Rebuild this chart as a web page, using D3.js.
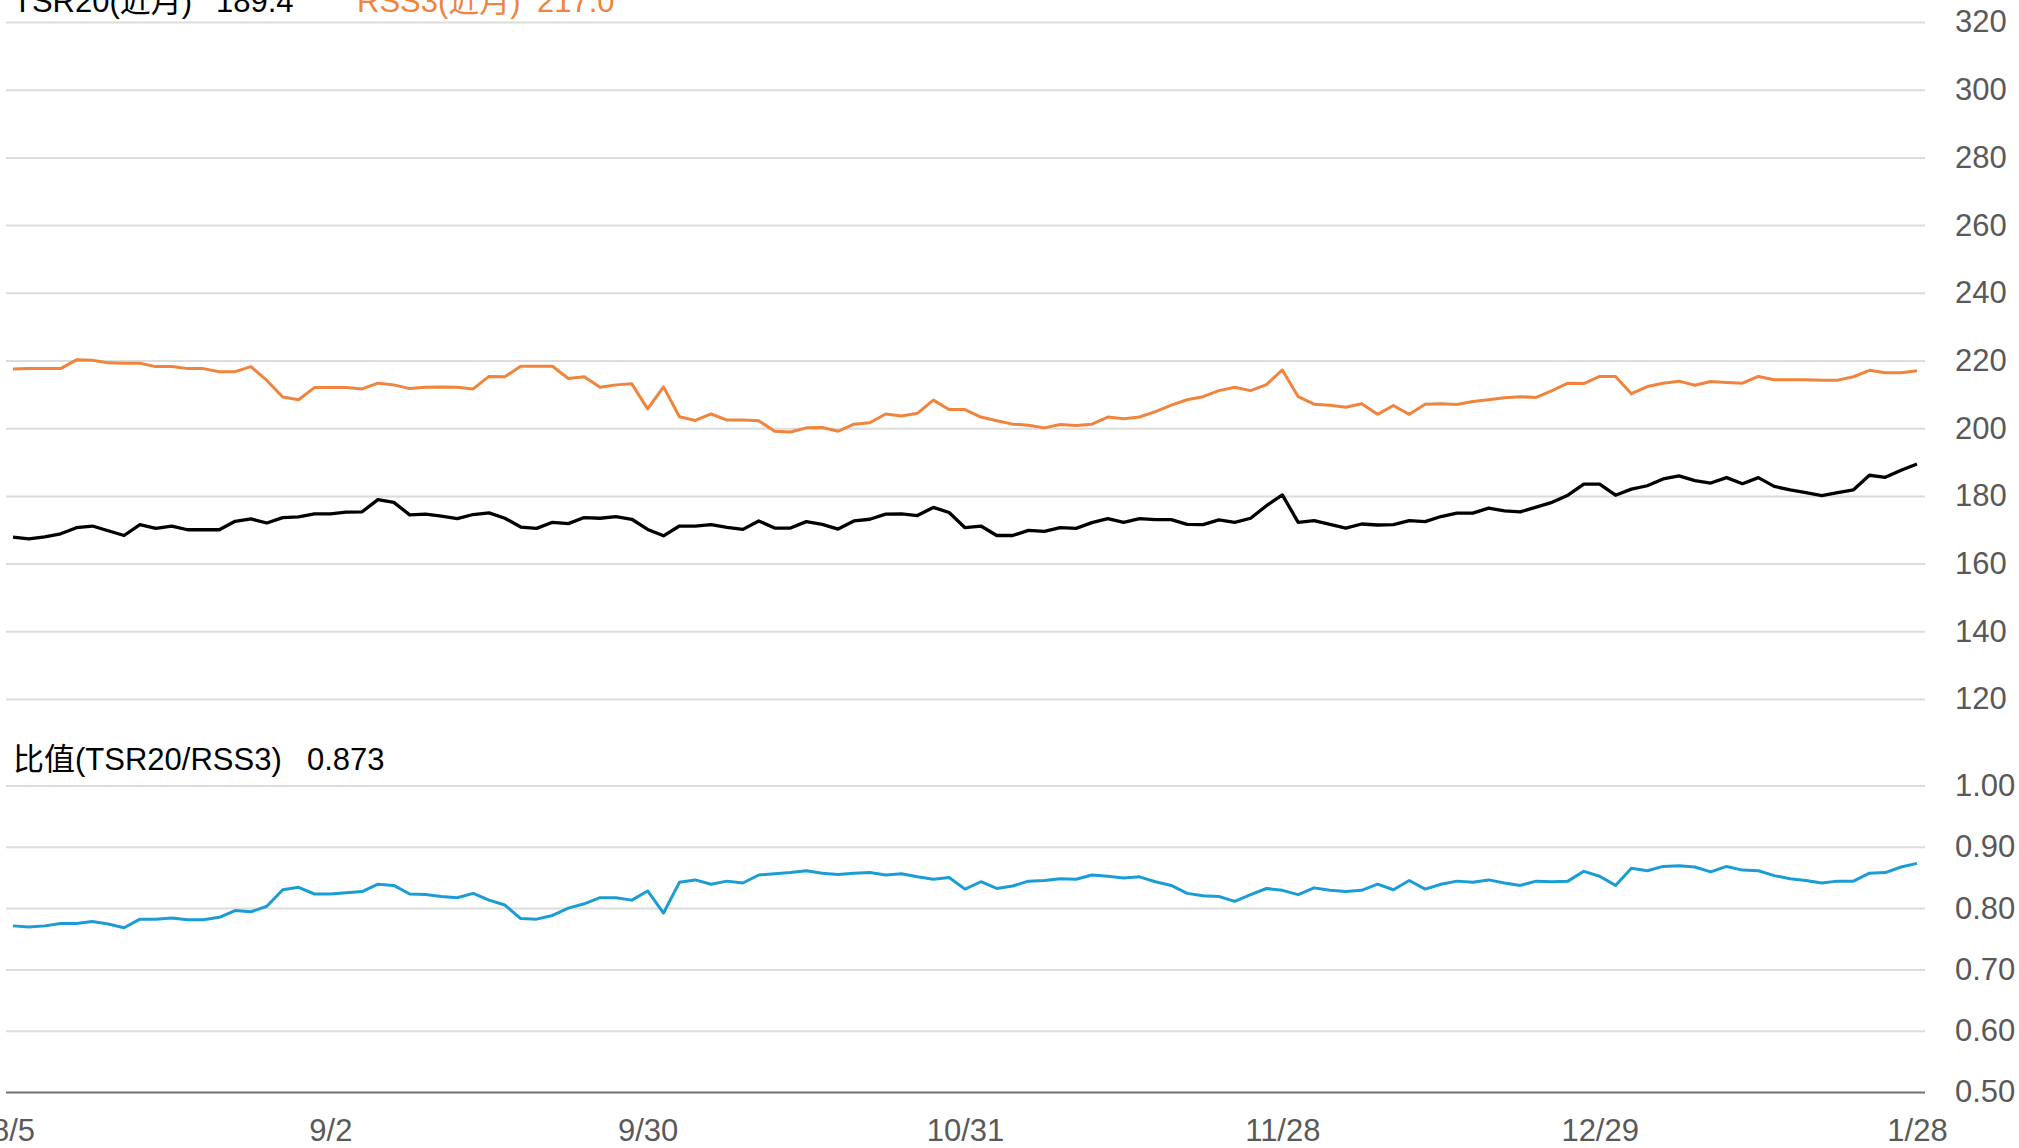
<!DOCTYPE html>
<html>
<head>
<meta charset="utf-8">
<script src="https://cdn.jsdelivr.net/npm/d3@7"></script>
<style>
  body { margin: 0; background: #fff; overflow: hidden; }
  svg { display: block; font-family: "Liberation Sans", Arial, "Noto Sans CJK SC", sans-serif; }
</style>
</head>
<body>
<script>

const dates = [
    "8/5", "8/6", "8/7", "8/8", "8/11", "8/12", "8/13", "8/14", "8/15", "8/18",
    "8/19", "8/20", "8/21", "8/22", "8/25", "8/26", "8/27", "8/28", "8/29", "9/1",
    "9/2", "9/3", "9/4", "9/5", "9/8", "9/9", "9/10", "9/11", "9/12", "9/15",
    "9/16", "9/17", "9/18", "9/19", "9/22", "9/23", "9/24", "9/25", "9/26", "9/29",
    "9/30", "10/6", "10/7", "10/8", "10/9", "10/10", "10/13", "10/14", "10/15", "10/16",
    "10/17", "10/20", "10/21", "10/22", "10/23", "10/24", "10/27", "10/28", "10/29", "10/30",
    "10/31", "11/3", "11/4", "11/5", "11/6", "11/7", "11/10", "11/11", "11/12", "11/13",
    "11/14", "11/17", "11/18", "11/19", "11/20", "11/21", "11/24", "11/25", "11/26", "11/27",
    "11/28", "12/1", "12/2", "12/3", "12/4", "12/5", "12/8", "12/9", "12/10", "12/11",
    "12/12", "12/15", "12/16", "12/17", "12/18", "12/19", "12/22", "12/23", "12/24", "12/26",
    "12/29", "12/30", "1/2", "1/5", "1/6", "1/7", "1/8", "1/9", "1/12", "1/13",
    "1/14", "1/15", "1/16", "1/19", "1/20", "1/21", "1/22", "1/23", "1/26", "1/27",
    "1/28"
];

const tsr20 = [
    167.8, 167.3, 167.9, 168.8, 170.6, 171.1, 169.7, 168.3, 171.5, 170.4,
    171.1, 170.0, 170.0, 170.0, 172.5, 173.2, 172.0, 173.6, 173.8, 174.7,
    174.7, 175.2, 175.3, 178.9, 178.1, 174.4, 174.6, 174.0, 173.3, 174.5,
    175.0, 173.4, 170.8, 170.4, 172.2, 171.8, 173.6, 173.4, 173.9, 173.1,
    170.1, 168.2, 171.1, 171.1, 171.5, 170.7, 170.1, 172.6, 170.5, 170.5,
    172.4, 171.6, 170.2, 172.6, 173.1, 174.6, 174.7, 174.2, 176.6, 175.1,
    170.6, 171.1, 168.3, 168.3, 169.8, 169.5, 170.6, 170.4, 172.1, 173.3,
    172.2, 173.3, 173.0, 173.0, 171.6, 171.5, 172.9, 172.2, 173.4, 177.1,
    180.3, 172.2, 172.7, 171.6, 170.5, 171.7, 171.4, 171.5, 172.7, 172.4,
    173.9, 174.9, 174.9, 176.4, 175.6, 175.3, 176.7, 178.1, 180.2, 183.5,
    183.5, 180.2, 182.0, 183.0, 185.0, 185.9, 184.5, 183.8, 185.4, 183.6,
    185.4, 182.8, 181.8, 181.0, 180.1, 181.0, 181.8, 186.1, 185.5, 187.6,
    189.4
];

const rss3 = [
    217.5, 217.6, 217.6, 217.6, 220.2, 220.1, 219.3, 219.2, 219.2, 218.2,
    218.2, 217.6, 217.6, 216.7, 216.7, 218.2, 214.1, 209.2, 208.4, 212.0,
    212.0, 212.0, 211.6, 213.3, 212.8, 211.7, 212.1, 212.2, 212.1, 211.6,
    215.3, 215.2, 218.3, 218.3, 218.3, 214.7, 215.2, 212.1, 212.8, 213.1,
    205.7, 212.2, 203.4, 202.3, 204.2, 202.4, 202.4, 202.2, 199.1, 198.9,
    200.1, 200.2, 199.1, 201.2, 201.6, 204.2, 203.6, 204.4, 208.3, 205.5,
    205.5, 203.3, 202.2, 201.2, 200.9, 200.1, 201.1, 200.8, 201.2, 203.3,
    202.8, 203.3, 204.9, 206.8, 208.4, 209.3, 211.1, 212.1, 211.1, 212.9,
    217.2, 209.3, 207.1, 206.8, 206.2, 207.2, 204.1, 206.7, 204.1, 207.1,
    207.2, 207.0, 207.9, 208.4, 209.0, 209.3, 209.1, 211.1, 213.3, 213.2,
    215.3, 215.3, 210.2, 212.3, 213.3, 213.9, 212.7, 213.8, 213.5, 213.3,
    215.3, 214.3, 214.3, 214.3, 214.2, 214.2, 215.2, 217.1, 216.4, 216.4,
    217.0
];

const ratio = [
    0.771, 0.769, 0.771, 0.775, 0.775, 0.778, 0.774, 0.768, 0.782, 0.782,
    0.784, 0.781, 0.781, 0.785, 0.796, 0.794, 0.803, 0.830, 0.834, 0.823,
    0.823, 0.825, 0.827, 0.839, 0.837, 0.823, 0.822, 0.819, 0.817, 0.824,
    0.813, 0.805, 0.783, 0.782, 0.788, 0.800, 0.807, 0.817, 0.817, 0.813,
    0.828, 0.792, 0.842, 0.846, 0.839, 0.844, 0.841, 0.854, 0.856, 0.858,
    0.861, 0.857, 0.855, 0.857, 0.858, 0.854, 0.856, 0.851, 0.847, 0.850,
    0.831, 0.843, 0.832, 0.836, 0.844, 0.845, 0.848, 0.847, 0.854, 0.852,
    0.849, 0.851, 0.843, 0.837, 0.824, 0.820, 0.819, 0.811, 0.822, 0.832,
    0.829, 0.822, 0.833, 0.829, 0.827, 0.829, 0.839, 0.830, 0.845, 0.831,
    0.839, 0.844, 0.842, 0.846, 0.841, 0.837, 0.844, 0.843, 0.844, 0.860,
    0.852, 0.837, 0.865, 0.861, 0.868, 0.869, 0.867, 0.859, 0.868, 0.862,
    0.861, 0.853, 0.848, 0.845, 0.841, 0.844, 0.844, 0.857, 0.858, 0.867,
    0.873
];

const xTickIdx = [0, 20, 40, 60, 80, 100, 120];
const priceTicks = [120, 140, 160, 180, 200, 220, 240, 260, 280, 300, 320];
const ratioTicks = [0.5, 0.6, 0.7, 0.8, 0.9, 1.0];

const width = 2019, height = 1148;
const gridLeft = 6, gridRight = 1925;
const fontSize = "31px";

const svg = d3.select("body").append("svg")
    .attr("width", width)
    .attr("height", height);

const x = d3.scaleLinear().domain([0, dates.length - 1]).range([13, 1917]);
const yPrice = d3.scaleLinear().domain([120, 320]).range([699, 22]);
const yRatio = d3.scaleLinear().domain([0.5, 1.0]).range([1092, 785.5]);

// right side axes, ticks stretched across as gridlines
function styleAxis(g) {
    g.select(".domain").remove();
    g.selectAll(".tick line")
        .attr("stroke", "#dcdcdc")
        .attr("stroke-width", 2);
    g.selectAll(".tick text")
        .attr("fill", "#595959")
        .style("font-size", fontSize);
}

svg.append("g")
    .attr("transform", `translate(${gridRight},0)`)
    .call(d3.axisRight(yPrice)
        .tickValues(priceTicks)
        .tickSize(-(gridRight - gridLeft))
        .tickPadding(30)
        .tickFormat(d3.format("d")))
    .call(styleAxis);

const ratioAxis = svg.append("g")
    .attr("transform", `translate(${gridRight},0)`)
    .call(d3.axisRight(yRatio)
        .tickValues(ratioTicks)
        .tickSize(-(gridRight - gridLeft))
        .tickPadding(30)
        .tickFormat(d3.format(".2f")))
    .call(styleAxis);

ratioAxis.selectAll(".tick")
    .filter(d => d === 0.5)
    .select("line")
    .attr("stroke", "#707070");

svg.append("g")
    .attr("transform", `translate(0,${yRatio(0.5)})`)
    .call(d3.axisBottom(x)
        .tickValues(xTickIdx)
        .tickSize(0)
        .tickPadding(27)
        .tickFormat(i => dates[i]))
    .call(g => g.select(".domain").remove())
    .call(g => g.selectAll(".tick text")
        .attr("fill", "#595959")
        .style("font-size", fontSize));

const pricePanel = [
    { values: rss3, color: "#f0843c", w: 3 },
    { values: tsr20, color: "#000000", w: 3.3 }
];

pricePanel.forEach(s => {
    svg.append("path")
        .datum(s.values)
        .attr("fill", "none")
        .attr("stroke", s.color)
        .attr("stroke-width", s.w)
        .attr("stroke-linejoin", "round")
        .attr("d", d3.line().x((d, i) => x(i)).y(d => yPrice(d)));
});

svg.append("path")
    .datum(ratio)
    .attr("fill", "none")
    .attr("stroke", "#1a9dd5")
    .attr("stroke-width", 3)
    .attr("stroke-linejoin", "round")
    .attr("d", d3.line().x((d, i) => x(i)).y(d => yRatio(d)));

// legends
const legend = [
    { text: "TSR20(近月)", x: 13, y: 12, color: "#000" },
    { text: d3.format(".1f")(tsr20[tsr20.length - 1]), x: 216, y: 12, color: "#000" },
    { text: "RSS3(近月)", x: 357, y: 12, color: "#f0843c" },
    { text: d3.format(".1f")(rss3[rss3.length - 1]), x: 537, y: 12, color: "#f0843c" },
    { text: "比值(TSR20/RSS3)", x: 13, y: 770, color: "#000" },
    { text: d3.format(".3f")(ratio[ratio.length - 1]), x: 307, y: 770, color: "#000" }
];

svg.selectAll(".legend")
    .data(legend)
    .enter().append("text")
    .attr("class", "legend")
    .attr("x", d => d.x)
    .attr("y", d => d.y)
    .attr("fill", d => d.color)
    .style("font-size", "31px")
    .text(d => d.text);

</script>
</body>
</html>
